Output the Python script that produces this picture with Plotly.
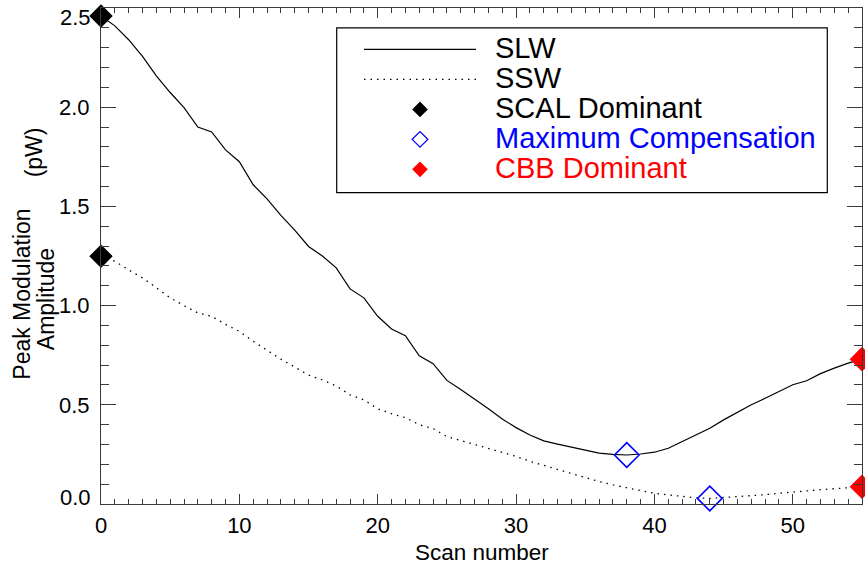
import plotly.graph_objects as go

# ---------------- data ----------------
scans = list(range(56))
slw = [2.46, 2.41, 2.34, 2.256, 2.158, 2.074, 1.998, 1.90, 1.875, 1.785,
       1.725, 1.609, 1.538, 1.455, 1.38, 1.298, 1.25, 1.19, 1.084, 1.039,
       0.946, 0.882, 0.848, 0.747, 0.707, 0.623, 0.577, 0.529, 0.48, 0.428,
       0.385, 0.348, 0.318, 0.302, 0.287, 0.271, 0.256, 0.25, 0.247, 0.252,
       0.261, 0.281, 0.315, 0.348, 0.382, 0.424, 0.463, 0.50, 0.533, 0.567,
       0.601, 0.621, 0.657, 0.685, 0.71, 0.73]
ssw = [1.249, 1.224, 1.18, 1.14, 1.09, 1.039, 1.0, 0.963, 0.946, 0.905,
       0.870, 0.82, 0.775, 0.73, 0.69, 0.65, 0.625, 0.595, 0.55, 0.525,
       0.48, 0.455, 0.435, 0.40, 0.38, 0.34, 0.32, 0.30, 0.28, 0.262,
       0.24, 0.215, 0.195, 0.172, 0.152, 0.132, 0.113, 0.096, 0.083, 0.068,
       0.054, 0.046, 0.038, 0.031, 0.028, 0.032, 0.036, 0.041, 0.047, 0.054,
       0.061, 0.067, 0.072, 0.077, 0.082, 0.087]

scal_x = [0, 0]
scal_y = [slw[0], ssw[0]]
maxc_x = [38, 44]
maxc_y = [slw[38], ssw[44]]
cbb_x = [55, 55]
cbb_y = [slw[55], ssw[55]]

x_tickvals = [0, 10, 20, 30, 40, 50]
y_tickvals = [0.5, 1.0, 1.5, 2.0]
y_ticktext = ["0.5", "1.0", "1.5", "2.0"]

legend_names = ["SLW", "SSW", "SCAL Dominant", "Maximum Compensation", "CBB Dominant"]
legend_colors = ["black", "black", "black", "blue", "red"]

# ---------------- layout geometry ----------------
W, H = 865, 567
L, R, T, B = 101, 862, 7.5, 504
FONT = "Liberation Sans, Arial, Helvetica, sans-serif"
AX = "#3a3a3a"

def px(xp):
    return (xp - L) / (R - L)

def py(yp):
    return (B - yp) / (B - T)

fig = go.Figure()

fig.add_trace(go.Scatter(x=scans, y=slw, mode="lines",
                         line=dict(color="black", width=1.2), showlegend=False))
fig.add_trace(go.Scatter(x=scans, y=ssw, mode="lines",
                         line=dict(color="black", width=1.3, dash="1.5px,5px"),
                         showlegend=False))
fig.add_trace(go.Scatter(x=scal_x, y=scal_y, mode="markers", cliponaxis=False,
                         marker=dict(symbol="diamond", size=18, color="black",
                                     line=dict(width=0)), showlegend=False))
fig.add_trace(go.Scatter(x=maxc_x, y=maxc_y, mode="markers", cliponaxis=False,
                         marker=dict(symbol="diamond-open", size=19, color="blue",
                                     line=dict(width=1.6, color="blue")),
                         showlegend=False))
fig.add_trace(go.Scatter(x=cbb_x, y=cbb_y, mode="markers", cliponaxis=False,
                         marker=dict(symbol="diamond", size=19, color="red",
                                     line=dict(width=0)), showlegend=False))

# ---------------- custom legend (overlay axes in pixel space) ----------------
leg_rows = [49, 79, 109, 139, 169]
leg_sym_x = 420
fig.add_trace(go.Scatter(x=[364, 476], y=[leg_rows[0]] * 2, mode="lines",
                         xaxis="x2", yaxis="y2",
                         line=dict(color="black", width=1.2), showlegend=False))
fig.add_trace(go.Scatter(x=[364, 476], y=[leg_rows[1]] * 2, mode="lines",
                         xaxis="x2", yaxis="y2",
                         line=dict(color="black", width=1.3, dash="1.5px,5px"),
                         showlegend=False))
fig.add_trace(go.Scatter(x=[leg_sym_x], y=[leg_rows[2]], mode="markers",
                         xaxis="x2", yaxis="y2",
                         marker=dict(symbol="diamond", size=12, color="black"),
                         showlegend=False))
fig.add_trace(go.Scatter(x=[leg_sym_x], y=[leg_rows[3]], mode="markers",
                         xaxis="x2", yaxis="y2",
                         marker=dict(symbol="diamond-open", size=12, color="blue",
                                     line=dict(width=1.3, color="blue")),
                         showlegend=False))
fig.add_trace(go.Scatter(x=[leg_sym_x], y=[leg_rows[4]], mode="markers",
                         xaxis="x2", yaxis="y2",
                         marker=dict(symbol="diamond", size=12, color="red"),
                         showlegend=False))

shapes = [dict(type="rect", xref="paper", yref="paper",
               x0=px(336.7), x1=px(827.3), y0=py(192.3), y1=py(27.3),
               line=dict(color="black", width=1.2), fillcolor="rgba(0,0,0,0)",
               layer="below")]

annotations = []
for name, col, yy in zip(legend_names, legend_colors, leg_rows):
    annotations.append(dict(text=name, xref="paper", yref="paper",
                            x=px(493), y=py(yy - 1), xanchor="left", yanchor="middle",
                            showarrow=False, font=dict(family=FONT, size=29, color=col)))

# y-axis end labels (shifted inwards as in the reference)
annotations.append(dict(text="0.0", xref="paper", yref="y", x=px(93), y=0,
                        xanchor="right", yanchor="middle", yshift=7, showarrow=False,
                        font=dict(family=FONT, size=22, color="black")))
annotations.append(dict(text="2.5", xref="paper", yref="y", x=px(93), y=2.5,
                        xanchor="right", yanchor="middle", yshift=-9, showarrow=False,
                        font=dict(family=FONT, size=22, color="black")))

# axis titles
annotations.append(dict(text="Scan number", xref="paper", yref="paper",
                        x=0.5, y=0, xanchor="center", yanchor="middle", yshift=-48,
                        showarrow=False, font=dict(family=FONT, size=22.5, color="black")))
for txt, xp_, yp_ in [("Peak Modulation", 22.5, 294), ("Amplitude", 46, 299),
                      ("(pW)", 34, 152)]:
    annotations.append(dict(text=txt, xref="paper", yref="paper",
                            x=px(xp_), y=py(yp_), xanchor="center", yanchor="middle",
                            textangle=-90, showarrow=False,
                            font=dict(family=FONT, size=23, color="black")))

fig.update_layout(
    width=W, height=H,
    margin=dict(l=L, r=W - R, t=T, b=H - B, pad=0),
    paper_bgcolor="white", plot_bgcolor="white",
    font=dict(family=FONT, size=22, color="black"),
    showlegend=False,
    xaxis=dict(range=[0, 55], tickvals=x_tickvals, ticks="inside", ticklen=10,
               tickwidth=1.2, tickcolor=AX, showline=True, linecolor=AX, linewidth=1.2,
               mirror="allticks", showgrid=False, zeroline=False,
               ticklabelstandoff=1,
               minor=dict(dtick=1, ticks="inside", ticklen=5, tickcolor=AX,
                          tickwidth=1.2, showgrid=False),
               tickfont=dict(family=FONT, size=22, color="black")),
    yaxis=dict(range=[0, 2.5], tickvals=y_tickvals, ticktext=y_ticktext,
               ticks="inside", ticklen=15, tickwidth=1.2, tickcolor=AX,
               showline=True, linecolor=AX, linewidth=1.2, mirror="allticks",
               showgrid=False, zeroline=False, ticklabelstandoff=6,
               minor=dict(dtick=0.1, tick0=0, ticks="inside", ticklen=8, tickcolor=AX,
                          tickwidth=1.2, showgrid=False),
               tickfont=dict(family=FONT, size=22, color="black")),
    xaxis2=dict(range=[L, R], overlaying="x", visible=False, fixedrange=True),
    yaxis2=dict(range=[B, T], overlaying="y", visible=False, fixedrange=True),
    shapes=shapes,
    annotations=annotations,
)

fig.write_html("out.html")
